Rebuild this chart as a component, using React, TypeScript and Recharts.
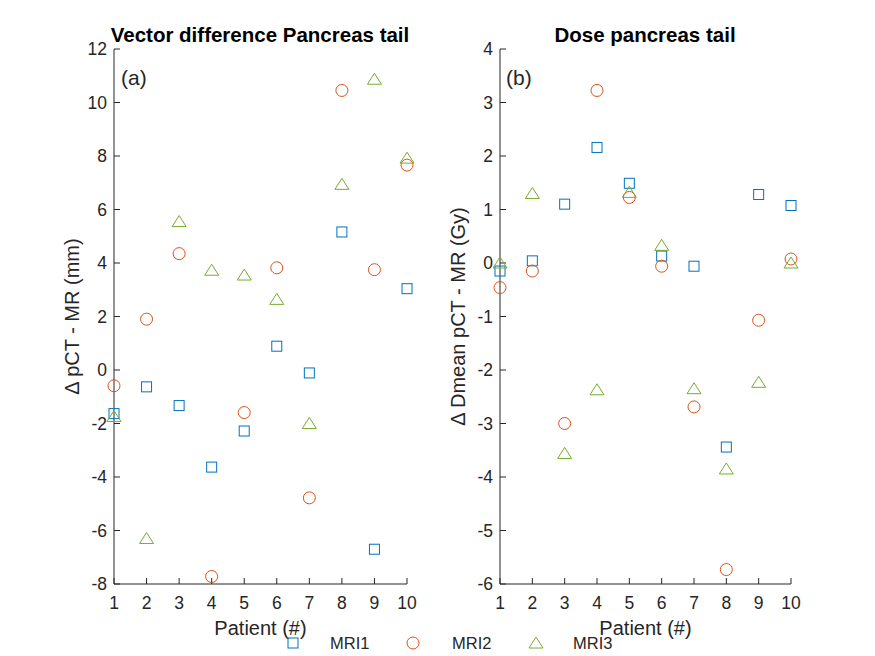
import React from 'react';
import { ScatterChart, Scatter, XAxis, YAxis, Legend } from 'recharts';

// Patients 1..10
const patients = [1, 2, 3, 4, 5, 6, 7, 8, 9, 10];

// (a) Vector difference pancreas tail, pCT - MR (mm)
const vecMri1 = [-1.63, -0.63, -1.33, -3.63, -2.28, 0.89, -0.11, 5.16, -6.7, 3.04];
const vecMri2 = [-0.59, 1.9, 4.35, -7.72, -1.59, 3.82, -4.78, 10.45, 3.75, 7.66];
const vecMri3 = [-1.74, -6.3, 5.55, 3.73, 3.55, 2.64, -2.0, 6.94, 10.87, 7.92];

// (b) Dmean pancreas tail, pCT - MR (Gy)
const doseMri1 = [-0.15, 0.04, 1.1, 2.16, 1.49, 0.13, -0.06, -3.44, 1.28, 1.075];
const doseMri2 = [-0.46, -0.15, -3.0, 3.225, 1.225, -0.06, -2.69, -5.73, -1.07, 0.075];
const doseMri3 = [0.0, 1.3, -3.56, -2.37, 1.32, 0.33, -2.35, -3.85, -2.23, 0.0];

const vecTicks = [-8, -6, -4, -2, 0, 2, 4, 6, 8, 10, 12];
const doseTicks = [-6, -5, -4, -3, -2, -1, 0, 1, 2, 3, 4];

const seriesNames = ['MRI1', 'MRI2', 'MRI3'];
const COLORS = ['#0072BD', '#D95319', '#77AC30'];

const FONT = '"Liberation Sans", Arial, sans-serif';
const AXIS_COLOR = '#262626';

const toRows = (vals: number[]) => patients.map((p, i) => ({ x: p, y: vals[i] }));

// MATLAB-like open markers
const squareShape = (color: string) => (props: any) => (
  <rect x={props.cx - 5} y={props.cy - 5} width={10} height={10} fill="none" stroke={color} strokeWidth={1} />
);
const circleShape = (color: string) => (props: any) => (
  <circle cx={props.cx} cy={props.cy} r={6} fill="none" stroke={color} strokeWidth={1} />
);
const triangleShape = (color: string) => (props: any) => (
  <polygon
    points={`${props.cx},${props.cy - 6} ${props.cx - 7},${props.cy + 5} ${props.cx + 7},${props.cy + 5}`}
    fill="none"
    stroke={color}
    strokeWidth={1}
  />
);
const shapes = [squareShape, circleShape, triangleShape];

const tickStyle = { fontSize: 17.5, fill: AXIS_COLOR, fontFamily: FONT };
const labelStyle = { fontSize: 20, fill: AXIS_COLOR, fontFamily: FONT, textAnchor: 'middle' as const };

function renderLegend() {
  const items = [
    { marker: 293, text: 330 },
    { marker: 413, text: 452 },
    { marker: 536, text: 573 },
  ];
  const cy = 11;
  return (
    <svg width={875} height={24} style={{ display: 'block' }}>
      {items.map((it, i) => (
        <g key={seriesNames[i]}>
          {i === 0 && (
            <rect x={it.marker - 5} y={cy - 5} width={10} height={10} fill="none" stroke={COLORS[0]} />
          )}
          {i === 1 && <circle cx={it.marker} cy={cy} r={6} fill="none" stroke={COLORS[1]} />}
          {i === 2 && (
            <polygon
              points={`${it.marker},${cy - 6} ${it.marker - 7},${cy + 5} ${it.marker + 7},${cy + 5}`}
              fill="none"
              stroke={COLORS[2]}
            />
          )}
          <text x={it.text} y={cy} dominantBaseline="central" fontSize={16.5} fontFamily={FONT} fill={AXIS_COLOR}>
            {seriesNames[i]}
          </text>
        </g>
      ))}
    </svg>
  );
}

interface PanelProps {
  series: number[][];
  ticks: number[];
  ylabel: string;
  marginLeft: number;
  marginRight: number;
  showLegend?: boolean;
}

function Panel({ series, ticks, ylabel, marginLeft, marginRight, showLegend }: PanelProps) {
  return (
    <div style={{ position: 'absolute', left: 0, top: 0 }}>
      <ScatterChart
        width={875}
        height={656}
        margin={{ top: 49, right: marginRight, bottom: 42, left: marginLeft }}
      >
        <XAxis
          type="number"
          dataKey="x"
          domain={[1, 10]}
          ticks={patients}
          height={30}
          axisLine={{ stroke: AXIS_COLOR }}
          tickLine={{ stroke: AXIS_COLOR }}
          tickSize={-6}
          tickMargin={19}
          tick={tickStyle}
          label={{ value: 'Patient (#)', position: 'insideBottom', offset: -21, style: labelStyle }}
        />
        <YAxis
          type="number"
          dataKey="y"
          domain={[ticks[0], ticks[ticks.length - 1]]}
          ticks={ticks}
          width={60}
          axisLine={{ stroke: AXIS_COLOR }}
          tickLine={{ stroke: AXIS_COLOR }}
          tickSize={-6}
          tickMargin={13}
          tick={tickStyle}
          label={{ value: ylabel, angle: -90, position: 'insideLeft', offset: 18, style: labelStyle }}
        />
        {series.map((vals, i) => (
          <Scatter
            key={seriesNames[i]}
            name={seriesNames[i]}
            data={toRows(vals)}
            shape={shapes[i](COLORS[i])}
            isAnimationActive={false}
          />
        ))}
        {showLegend && (
          <Legend
            layout="horizontal"
            verticalAlign="middle"
            align="center"
            wrapperStyle={{ left: 0, top: 632, width: 875, height: 24 }}
            content={renderLegend}
          />
        )}
      </ScatterChart>
    </div>
  );
}

const textBase: React.CSSProperties = {
  position: 'absolute',
  fontFamily: FONT,
  color: '#000',
  whiteSpace: 'nowrap',
  lineHeight: '24px',
  height: 24,
};

export default function App() {
  return (
    <div style={{ position: 'absolute', left: 0, top: 0, width: 875, height: 656, background: '#fff', overflow: 'hidden' }}>
      <Panel
        series={[vecMri1, vecMri2, vecMri3]}
        ticks={vecTicks}
        ylabel="Δ pCT - MR (mm)"
        marginLeft={54}
        marginRight={468}
        showLegend
      />
      <Panel
        series={[doseMri1, doseMri2, doseMri3]}
        ticks={doseTicks}
        ylabel="Δ Dmean pCT - MR (Gy)"
        marginLeft={440}
        marginRight={84}
      />
      <div style={{ ...textBase, left: 100, top: 23, width: 320, textAlign: 'center', fontSize: 20.5, fontWeight: 'bold' }}>
        Vector difference Pancreas tail
      </div>
      <div style={{ ...textBase, left: 485, top: 23, width: 320, textAlign: 'center', fontSize: 20.5, fontWeight: 'bold' }}>
        Dose pancreas tail
      </div>
      <div style={{ ...textBase, left: 121, top: 66, fontSize: 21, color: AXIS_COLOR }}>(a)</div>
      <div style={{ ...textBase, left: 506, top: 66, fontSize: 21, color: AXIS_COLOR }}>(b)</div>
    </div>
  );
}
